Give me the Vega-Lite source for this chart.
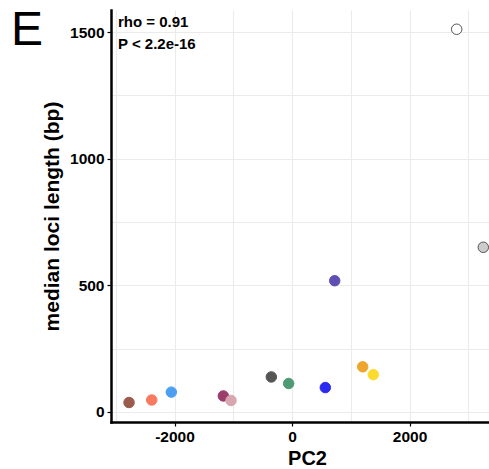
{
  "$schema": "https://vega.github.io/schema/vega-lite/v6.json",
  "width": 378,
  "height": 412,
  "autosize": "none",
  "padding": {"left": 111, "top": 10, "right": 0, "bottom": 47},
  "background": "white",
  "config": {"view": {"stroke": null}, "font": "Liberation Sans"},
  "data": {"values": [
    {"sample": "s01", "PC2": -2774, "length": 37},
    {"sample": "s02", "PC2": -2388, "length": 47},
    {"sample": "s03", "PC2": -2054, "length": 78},
    {"sample": "s04", "PC2": -1169, "length": 63},
    {"sample": "s05", "PC2": -1038, "length": 45},
    {"sample": "s06", "PC2": -352, "length": 138},
    {"sample": "s07", "PC2": -57, "length": 112},
    {"sample": "s08", "PC2": 567, "length": 96},
    {"sample": "s09", "PC2": 1203, "length": 178},
    {"sample": "s10", "PC2": 1384, "length": 147},
    {"sample": "s11", "PC2": 727, "length": 518},
    {"sample": "s12", "PC2": 2803, "length": 1511},
    {"sample": "s13", "PC2": 3256, "length": 650}
  ]},
  "layer": [
    {
      "mark": {"type": "point", "filled": true, "size": 110, "strokeWidth": 1, "opacity": 1},
      "encoding": {
        "x": {"field": "PC2", "type": "quantitative", "scale": {"domain": [-3081, 3353], "nice": false, "zero": false},
          "axis": {"orient": "bottom", "values": [-3000, -2000, -1000, 0, 1000, 2000, 3000],
            "labelExpr": "datum.value % 2000 === 0 ? '' + datum.value : ''",
            "grid": true, "gridColor": "#ebebeb", "gridWidth": 1.1,
            "domain": true, "domainColor": "black", "domainWidth": 2.5, "domainCap": "square",
            "ticks": true, "tickColor": "black", "tickWidth": 1.2, "tickSize": 4,
            "tickOpacity": {"condition": {"test": "datum.value % 2000 === 0", "value": 1}, "value": 0},
            "labelFont": "Liberation Sans", "labelFontSize": 15.5, "labelFontWeight": "bold", "labelColor": "black", "labelPadding": 3, "labelFlush": false,
            "title": "PC2", "titleFont": "Liberation Sans", "titleFontSize": 20, "titleFontWeight": "bold", "titleColor": "black", "titlePadding": 4, "titleX": 196}},
        "y": {"field": "length", "type": "quantitative", "scale": {"domain": [-40, 1587], "nice": false, "zero": false},
          "axis": {"orient": "left", "values": [0, 250, 500, 750, 1000, 1250, 1500],
            "labelExpr": "datum.value % 500 === 0 ? '' + datum.value : ''",
            "grid": true, "gridColor": "#ebebeb", "gridWidth": 1.1,
            "domain": true, "domainColor": "black", "domainWidth": 2.5, "domainCap": "square",
            "ticks": true, "tickColor": "black", "tickWidth": 1.2, "tickSize": 4,
            "tickOpacity": {"condition": {"test": "datum.value % 500 === 0", "value": 1}, "value": 0},
            "labelFont": "Liberation Sans", "labelFontSize": 15.5, "labelFontWeight": "bold", "labelColor": "black", "labelPadding": 3,
            "title": "median loci length (bp)", "titleFont": "Liberation Sans", "titleFontSize": 21, "titleFontWeight": "bold", "titleColor": "black", "titlePadding": 7}},
        "fill": {"field": "sample", "type": "nominal", "legend": null,
          "scale": {"domain": ["s01","s02","s03","s04","s05","s06","s07","s08","s09","s10","s11","s12","s13"],
            "range": ["#9A5A4C","#F87A5E","#4A9FF2","#9B3D6B","#D9A5AE","#555555","#4E9A72","#2A2AF0","#EEA52C","#FDDB2C","#5E4FB5","#FFFFFF","#CCCCCC"]}},
        "stroke": {"field": "sample", "type": "nominal", "legend": null,
          "scale": {"domain": ["s01","s02","s03","s04","s05","s06","s07","s08","s09","s10","s11","s12","s13"],
            "range": ["#9A5A4C","#F87A5E","#4A9FF2","#9B3D6B","#D9A5AE","#555555","#4E9A72","#2A2AF0","#EEA52C","#FDDB2C","#5E4FB5","#555555","#555555"]}}
      }
    },
    {
      "data": {"values": [{"label": "rho = 0.91"}]},
      "mark": {"type": "text", "align": "left", "baseline": "alphabetic", "font": "Liberation Sans", "fontSize": 15, "fontWeight": "bold", "color": "black"},
      "encoding": {
        "x": {"datum": -2962, "type": "quantitative"},
        "y": {"datum": 1518, "type": "quantitative"},
        "text": {"field": "label"}
      }
    },
    {
      "data": {"values": [{"label": "P < 2.2e-16"}]},
      "mark": {"type": "text", "align": "left", "baseline": "alphabetic", "font": "Liberation Sans", "fontSize": 15, "fontWeight": "bold", "color": "black"},
      "encoding": {
        "x": {"datum": -2962, "type": "quantitative"},
        "y": {"datum": 1432, "type": "quantitative"},
        "text": {"field": "label"}
      }
    },
    {
      "data": {"values": [{"label": "E"}]},
      "mark": {"type": "text", "align": "left", "baseline": "alphabetic", "font": "Liberation Sans", "fontSize": 48, "fontWeight": "normal", "color": "black", "clip": false},
      "encoding": {
        "x": {"datum": -4783, "type": "quantitative"},
        "y": {"datum": 1449, "type": "quantitative"},
        "text": {"field": "label"}
      }
    }
  ]
}
